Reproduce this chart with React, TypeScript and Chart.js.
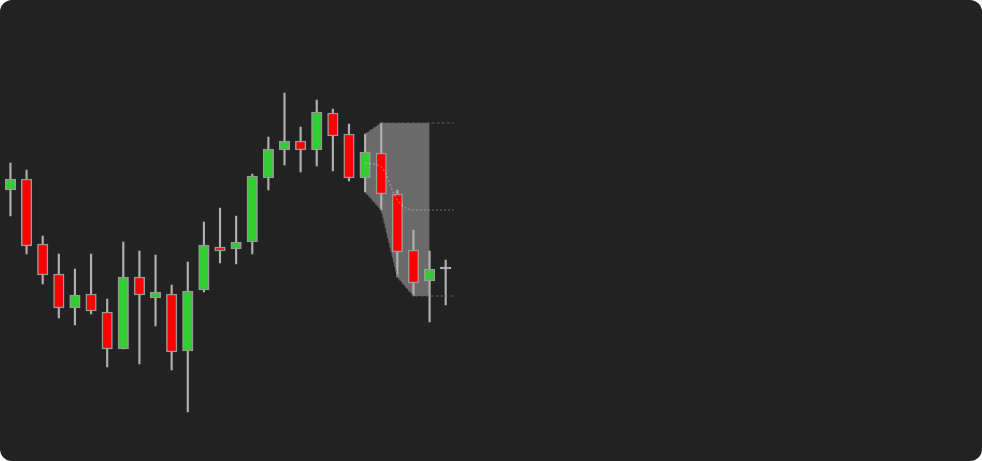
import { Chart, registerables } from 'chart.js';
import { useEffect, useRef } from 'react';

Chart.register(...registerables);

// candle values, one entry per session (price units)
const opens = [62.0, 64.2, 51.2, 45.2, 38.4, 41.2, 37.6, 30.2, 44.6, 40.4, 41.2, 29.8, 42.0, 50.6, 50.2, 51.6, 64.4, 70.0, 71.8, 70.0, 77.4, 73.2, 64.4, 69.4, 61.2, 50.0, 43.8, 46.2];
const highs = [67.4, 66.0, 52.8, 49.2, 46.2, 49.2, 40.2, 51.6, 49.8, 49.0, 43.0, 47.6, 55.6, 58.4, 56.8, 65.2, 72.6, 81.4, 74.6, 80.0, 78.2, 75.2, 73.2, 75.4, 62.0, 54.0, 49.8, 48.0];
const lows = [56.8, 49.2, 43.2, 36.4, 35.0, 37.2, 26.6, 30.2, 27.2, 34.8, 26.0, 17.6, 41.6, 47.4, 47.2, 49.2, 62.0, 67.0, 65.6, 66.8, 65.8, 63.8, 61.6, 58.0, 44.6, 40.8, 35.6, 39.0];
const closes = [64.2, 50.8, 45.0, 38.4, 41.0, 37.8, 30.2, 44.6, 41.0, 41.6, 29.6, 41.8, 51.0, 49.8, 51.6, 64.8, 70.2, 71.8, 70.0, 77.6, 72.8, 64.4, 69.6, 61.2, 49.6, 43.4, 46.2, 46.2];

// projected range band (starts at session 22)
const bandIndex = [22, 23, 24, 25, 26];
const bandUpper = [73.2, 75.4, 75.4, 75.4, 75.4];
const bandLower = [61.6, 58.0, 44.6, 40.8, 40.8];
const bandMid = [67.4, 66.6, 60.0, 58.0, 58.0];
const bandEnd = 27.5;

const UP = '#32cd32';
const DOWN = '#ff0000';
const FLAT = '#bbbbbb';

export default function App() {
   const chartRef = useRef<HTMLCanvasElement>(null);
   const chartInstance = useRef<Chart | null>(null);

   useEffect(() => {
      document.body.style.margin = '0';
      if (!chartRef.current) return;
      if (chartInstance.current) chartInstance.current.destroy();
      const ctx = chartRef.current.getContext('2d');
      if (!ctx) return;

      const bodyColors = opens.map((o, i) => (closes[i] > o ? UP : closes[i] < o ? DOWN : FLAT));
      const bodyBorders = opens.map((o, i) => (closes[i] === o ? FLAT : '#999999'));

      const withEnd = (vals: number[]) => [
         ...bandIndex.map((x, i) => ({ x, y: vals[i] })),
         { x: bandEnd, y: vals[vals.length - 1] },
      ];

      chartInstance.current = new Chart(ctx, {
         type: 'bar',
         data: {
            datasets: [
               {
                  type: 'line',
                  data: bandIndex.map((x, i) => ({ x, y: bandUpper[i] })),
                  borderWidth: 0,
                  pointRadius: 0,
                  backgroundColor: 'rgba(255, 255, 255, 0.33)',
                  fill: '+1',
                  order: 5,
               },
               {
                  type: 'line',
                  data: bandIndex.map((x, i) => ({ x, y: bandLower[i] })),
                  borderWidth: 0,
                  pointRadius: 0,
                  fill: false,
                  order: 5,
               },
               {
                  data: opens.map((_, i) => ({ x: i, y: [lows[i], highs[i]] })),
                  backgroundColor: '#b0b0b0',
                  barThickness: 1.5,
                  grouped: false,
                  order: 3,
               },
               {
                  data: opens.map((o, i) => ({ x: i, y: [o, closes[i]] })),
                  backgroundColor: bodyColors,
                  borderColor: bodyBorders,
                  borderWidth: 1.5,
                  borderSkipped: false,
                  barThickness: 10.5,
                  minBarLength: 2,
                  grouped: false,
                  order: 2,
               },
               {
                  type: 'line',
                  data: withEnd(bandUpper),
                  borderColor: '#5e5e5e',
                  borderWidth: 1.2,
                  borderDash: [3, 2],
                  pointRadius: 0,
                  fill: false,
                  order: 0,
               },
               {
                  type: 'line',
                  data: withEnd(bandMid),
                  borderColor: 'rgba(255, 255, 255, 0.35)',
                  borderWidth: 1.2,
                  borderDash: [2, 2],
                  pointRadius: 0,
                  tension: 0.4,
                  cubicInterpolationMode: 'monotone',
                  fill: false,
                  order: 0,
               },
               {
                  type: 'line',
                  data: withEnd(bandLower),
                  borderColor: '#5e5e5e',
                  borderWidth: 1.2,
                  borderDash: [3, 2],
                  pointRadius: 0,
                  fill: false,
                  order: 0,
               },
            ],
         },
         options: {
            responsive: true,
            maintainAspectRatio: false,
            animation: false,
            layout: { padding: { left: 2.4, right: 12.4, top: 0, bottom: 0 } },
            scales: {
               x: {
                  type: 'linear',
                  min: -0.5,
                  max: 59.5,
                  offset: false,
                  display: false,
               },
               y: {
                  min: 7.8,
                  max: 100,
                  display: false,
               },
            },
            plugins: {
               legend: { display: false },
               tooltip: { enabled: false },
            },
         },
      });

      return () => {
         if (chartInstance.current) {
            chartInstance.current.destroy();
            chartInstance.current = null;
         }
      };
   }, []);

   return (
      <div
         style={{
            position: 'relative',
            width: 982,
            height: 461,
            background: '#222222',
            borderRadius: 12,
            overflow: 'hidden',
         }}
      >
         <canvas ref={chartRef} />
      </div>
   );
}
